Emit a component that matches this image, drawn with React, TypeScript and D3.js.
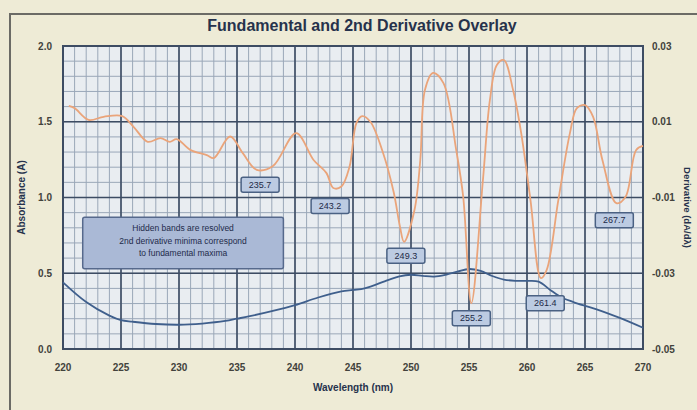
import React, { useEffect, useRef } from "react";
import * as d3 from "d3";

// fundamental spectrum (left axis, absorbance)
const fundWl = [220, 222, 224, 225, 226, 228, 230, 232, 234, 235, 236, 238, 240, 242, 244, 245, 246, 248, 249, 250, 251, 252, 253, 254, 255, 256, 257, 258, 259, 260, 261, 262, 263, 264, 265, 266, 268, 270];
const fundAbs = [0.44, 0.31, 0.22, 0.19, 0.18, 0.165, 0.16, 0.168, 0.185, 0.2, 0.215, 0.25, 0.29, 0.34, 0.38, 0.39, 0.4, 0.455, 0.48, 0.49, 0.483, 0.478, 0.49, 0.51, 0.528, 0.515, 0.482, 0.458, 0.45, 0.45, 0.445, 0.39, 0.34, 0.31, 0.285, 0.262, 0.205, 0.14];

// 2nd derivative (right axis)
const derivWl = [220.5, 221, 222.2, 223.5, 225.1, 226.1, 227.3, 228.4, 229.2, 229.8, 231, 232.4, 233, 234.4, 235.5, 236.7, 238.1, 240.1, 241.6, 242.7, 243.3, 244, 244.7, 245.3, 245.8, 246.5, 247.6, 248.5, 249.05, 249.4, 250.3, 250.8, 251.2, 251.9, 252.8, 253.9, 254.5, 255.2, 256.2, 256.8, 257.4, 258, 258.8, 259.5, 260.3, 261.2, 261.7, 262.7, 263.7, 264.3, 265, 265.7, 266.5, 267.7, 268.5, 269.4, 270];
const derivVal = [0.0142, 0.0136, 0.0105, 0.0113, 0.0115, 0.0086, 0.0047, 0.0057, 0.0047, 0.0054, 0.0025, 0.0012, 0.0004, 0.0061, 0.0017, -0.0027, -0.0017, 0.007, -0.0001, -0.0035, -0.0075, -0.0071, -0.0019, 0.0097, 0.0115, 0.01, 0.0017, -0.0085, -0.0177, -0.0217, -0.0133, -0.0001, 0.0184, 0.0229, 0.0202, 0.0025, -0.0098, -0.0379, -0.0054, 0.0157, 0.025, 0.0263, 0.0184, 0.007, -0.0107, -0.0313, -0.0291, -0.0107, 0.007, 0.0136, 0.0144, 0.0113, -0.0001, -0.0115, -0.0098, 0.0025, 0.0036];

// labelled minima
const minimaWl = [235.7, 243.2, 249.3, 255.2, 261.4, 267.7];
const minimaVal = [-0.0027, -0.0075, -0.0217, -0.0379, -0.0313, -0.0115];

const xTicks = [220, 225, 230, 235, 240, 245, 250, 255, 260, 265, 270];
const leftTicks = [0, 0.5, 1.0, 1.5, 2.0];
const rightTicks = [0.03, 0.01, -0.01, -0.03, -0.05];

const noteLines = [
    "Hidden bands are resolved",
    "2nd derivative minima correspond",
    "to fundamental maxima"
];

const FONT = "'Liberation Sans', Arial, sans-serif";

function App() {
    const chart = useRef<SVGSVGElement>(null);

    useEffect(() => {
        document.body.style.margin = "0";
        const width = 697;
        const height = 410;
        const margin = { top: 46, right: 54, bottom: 61, left: 63 };
        const svg = d3.select(chart.current)
            .attr("width", width)
            .attr("height", height);

        // paper background + frame
        svg.append("rect").attr("width", width).attr("height", height).attr("fill", "#eeebd6");
        svg.append("path")
            .attr("d", `M10,${height} L10,14 L${width},14`)
            .attr("fill", "none").attr("stroke", "#6b6b66").attr("stroke-width", 2);

        const x = d3.scaleLinear().domain([220, 270]).range([margin.left, width - margin.right]);
        const yL = d3.scaleLinear().domain([0, 2]).range([height - margin.bottom, margin.top]);
        const yR = d3.scaleLinear().domain([-0.05, 0.03]).range([height - margin.bottom, margin.top]);

        const [x0, x1] = x.range();
        const [yb, yt] = yL.range();

        svg.append("rect")
            .attr("x", x0).attr("y", yt)
            .attr("width", x1 - x0).attr("height", yb - yt)
            .attr("fill", "#e9edf1");

        // minor grid
        const minorX = d3.range(220, 270.01, 1);
        const minorY = d3.range(0, 2.001, 0.1);
        svg.append("g").selectAll("line")
            .data(minorX)
            .enter().append("line")
            .attr("x1", d => x(d)).attr("x2", d => x(d))
            .attr("y1", yt).attr("y2", yb)
            .attr("stroke", "#9aa7b8").attr("stroke-width", 1);
        svg.append("g").selectAll("line")
            .data(minorY)
            .enter().append("line")
            .attr("x1", x0).attr("x2", x1)
            .attr("y1", d => yL(d)).attr("y2", d => yL(d))
            .attr("stroke", "#9aa7b8").attr("stroke-width", 1);

        // major grid
        svg.append("g").selectAll("line")
            .data(xTicks)
            .enter().append("line")
            .attr("x1", d => x(d)).attr("x2", d => x(d))
            .attr("y1", yt).attr("y2", yb)
            .attr("stroke", "#3d4c63").attr("stroke-width", 1.6);
        svg.append("g").selectAll("line")
            .data(leftTicks)
            .enter().append("line")
            .attr("x1", x0).attr("x2", x1)
            .attr("y1", d => yL(d)).attr("y2", d => yL(d))
            .attr("stroke", "#3d4c63").attr("stroke-width", 1.6);

        svg.append("rect")
            .attr("x", x0).attr("y", yt)
            .attr("width", x1 - x0).attr("height", yb - yt)
            .attr("fill", "none").attr("stroke", "#3d4c63").attr("stroke-width", 2);

        // curves
        const fundLine = d3.line<number>()
            .x((d, i) => x(fundWl[i]))
            .y(d => yL(d))
            .curve(d3.curveCatmullRom.alpha(0.5));
        svg.append("path")
            .datum(fundAbs)
            .attr("d", fundLine)
            .attr("fill", "none").attr("stroke", "#3f5f8c").attr("stroke-width", 1.8);

        const derivLine = d3.line<number>()
            .x((d, i) => x(derivWl[i]))
            .y(d => yR(d))
            .curve(d3.curveCatmullRom.alpha(0.5));
        svg.append("path")
            .datum(derivVal)
            .attr("d", derivLine)
            .attr("fill", "none").attr("stroke", "#eaa47a").attr("stroke-width", 1.8);

        // note box
        const note = svg.append("g");
        note.append("rect")
            .attr("x", x(221.7)).attr("y", yL(0.87))
            .attr("width", x(239) - x(221.7)).attr("height", yL(0.53) - yL(0.87))
            .attr("rx", 2)
            .attr("fill", "#aab9d6").attr("stroke", "#56698c").attr("stroke-width", 1.5);
        note.selectAll("text")
            .data(noteLines)
            .enter().append("text")
            .attr("x", x(230.35))
            .attr("y", (d, i) => yL(0.87) + 14 + i * 12.5)
            .attr("text-anchor", "middle")
            .attr("font-family", FONT).attr("font-size", 8.5)
            .attr("fill", "#1e2b4a")
            .text(d => d);

        // minima callouts
        const dx = [15, -2, 3, 0, 2, -2];
        const dy = [15, 18, 14, 15, 25, 17];
        const callouts = svg.append("g").selectAll("g")
            .data(minimaWl)
            .enter().append("g")
            .attr("transform", (d, i) => `translate(${x(d) + dx[i]},${yR(minimaVal[i]) + dy[i]})`);
        callouts.append("rect")
            .attr("x", -19).attr("y", -7.5)
            .attr("width", 38).attr("height", 15)
            .attr("rx", 2)
            .attr("fill", "#bccbe2").attr("stroke", "#4a6183").attr("stroke-width", 1.5);
        callouts.append("text")
            .attr("text-anchor", "middle")
            .attr("dy", "0.35em")
            .attr("font-family", FONT).attr("font-size", 9)
            .attr("fill", "#1c2a48")
            .text(d => d.toFixed(1));

        // tick labels
        const tickStyle = (sel: any) => sel
            .attr("font-family", FONT).attr("font-size", 10).attr("font-weight", "bold")
            .attr("fill", "#42423c");
        svg.append("g").selectAll("text")
            .data(xTicks)
            .enter().append("text")
            .attr("x", d => x(d)).attr("y", yb + 22)
            .attr("text-anchor", "middle")
            .call(tickStyle)
            .text(d => d);
        svg.append("g").selectAll("text")
            .data(leftTicks)
            .enter().append("text")
            .attr("x", x0 - 11).attr("y", d => yL(d))
            .attr("dy", "0.35em")
            .attr("text-anchor", "end")
            .call(tickStyle)
            .text(d => d.toFixed(1));
        svg.append("g").selectAll("text")
            .data(rightTicks)
            .enter().append("text")
            .attr("x", x1 + 9).attr("y", d => yR(d))
            .attr("dy", "0.35em")
            .attr("text-anchor", "start")
            .call(tickStyle)
            .text(d => d.toFixed(2));

        // titles
        svg.append("text")
            .attr("x", 362).attr("y", 31)
            .attr("text-anchor", "middle")
            .attr("font-family", FONT).attr("font-size", 16).attr("font-weight", "bold")
            .attr("fill", "#26324c")
            .text("Fundamental and 2nd Derivative Overlay");
        svg.append("text")
            .attr("x", (x0 + x1) / 2).attr("y", yb + 42)
            .attr("text-anchor", "middle")
            .attr("font-family", FONT).attr("font-size", 10).attr("font-weight", "bold")
            .attr("fill", "#26324c")
            .text("Wavelength (nm)");
        svg.append("text")
            .attr("transform", `translate(25,${(yt + yb) / 2}) rotate(-90)`)
            .attr("text-anchor", "middle")
            .attr("font-family", FONT).attr("font-size", 10).attr("font-weight", "bold")
            .attr("fill", "#26324c")
            .text("Absorbance (A)");
        svg.append("text")
            .attr("transform", `translate(684,${(yt + yb) / 2 + 10}) rotate(90)`)
            .attr("text-anchor", "middle")
            .attr("font-family", FONT).attr("font-size", 9.5).attr("font-weight", "bold")
            .attr("fill", "#26324c")
            .text("Derivative (dA/dλ)");

        return () => {
            svg.selectAll("*").remove();
        };
    }, []);

    return (
        <svg ref={chart}></svg>
    );
}

export default App;
